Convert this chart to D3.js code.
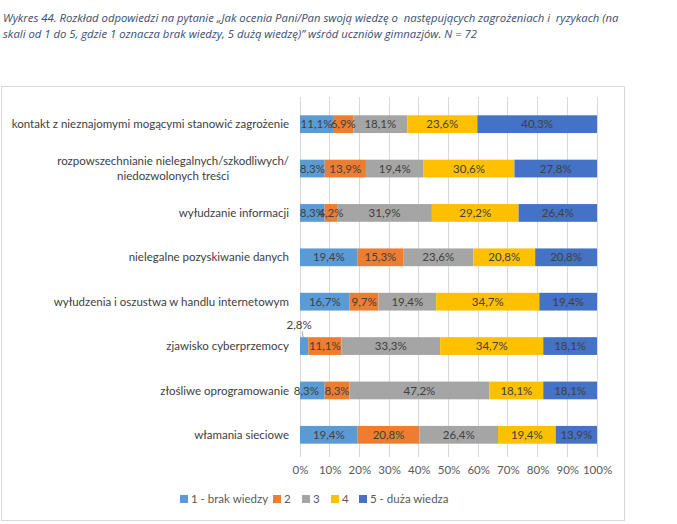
<!DOCTYPE html>
<html><head><meta charset="utf-8">
<script src="https://cdn.jsdelivr.net/npm/d3@7"></script>
<style>
body{margin:0;background:#fff;}
svg{display:block;}
text{font-family:Lato,"Noto Sans",sans-serif;}
</style></head>
<body><svg id="c" width="677" height="524"></svg>
<script>
const categories = [
  ["kontakt z nieznajomymi mogącymi stanowić zagrożenie"],
  ["rozpowszechnianie nielegalnych/szkodliwych/","niedozwolonych treści"],
  ["wyłudzanie informacji"],
  ["nielegalne pozyskiwanie danych"],
  ["wyłudzenia i oszustwa w handlu internetowym"],
  ["zjawisko cyberprzemocy"],
  ["złośliwe oprogramowanie"],
  ["włamania sieciowe"]
];
const seriesNames = ["1 - brak wiedzy","2","3","4","5 - duża wiedza"];
const s1 = [11.1, 8.3, 8.3, 19.4, 16.7, 2.8, 8.3, 19.4];
const s2 = [6.9, 13.9, 4.2, 15.3, 9.7, 11.1, 8.3, 20.8];
const s3 = [18.1, 19.4, 31.9, 23.6, 19.4, 33.3, 47.2, 26.4];
const s4 = [23.6, 30.6, 29.2, 20.8, 34.7, 34.7, 18.1, 19.4];
const s5 = [40.3, 27.8, 26.4, 20.8, 19.4, 18.1, 18.1, 13.9];
const tickValues = [0,10,20,30,40,50,60,70,80,90,100];
const colors = ["#5B9BD5","#ED7D31","#A5A5A5","#FFC000","#4472C4"];
const titleLines = ["Wykres 44. Rozkład odpowiedzi na pytanie „Jak ocenia Pani/Pan swoją wiedzę o  następujących zagrożeniach i  ryzykach (na",
  "skali od 1 do 5, gdzie 1 oznacza brak wiedzy, 5 dużą wiedzę)” wśród uczniów gimnazjów. N = 72"];

const series = [s1,s2,s3,s4,s5];
const svg = d3.select("#c");

// title
svg.append("g").selectAll("text").data(titleLines).join("text")
  .attr("x",3).attr("y",(d,i)=>22+i*16)
  .attr("font-size",11.3).attr("font-style","italic").attr("fill","#3B4E6E")
  .style("font-family","'Open Sans',sans-serif").style("white-space","pre")
  .attr("xml:space","preserve")
  .text(d=>d);

// frame
svg.append("rect").attr("x",1.5).attr("y",86.5).attr("width",623).attr("height",434)
  .attr("fill","none").attr("stroke","#D9D9D9");

const x = d3.scaleLinear().domain([0,100]).range([300,597]);
const y = d3.scaleBand().domain(d3.range(categories.length)).range([102,457]).paddingInner(0.6).paddingOuter(0.3);

// gridlines
svg.append("g").selectAll("line").data(tickValues).join("line")
  .attr("x1",d=>x(d)).attr("x2",d=>x(d)).attr("y1",97).attr("y2",457)
  .attr("stroke","#D9D9D9").attr("stroke-width",1).attr("shape-rendering","crispEdges");

// axis
const ax = svg.append("g").attr("transform","translate(0,457)")
  .call(d3.axisBottom(x).tickValues(tickValues).tickSize(0).tickPadding(9).tickFormat(d=>d+"%"));
ax.select(".domain").remove();
ax.selectAll("text").attr("font-size",11.5).attr("fill","#595959").style("font-family","Lato,sans-serif");

// stack
const rows = categories.map((c,i)=>{
  const vals = series.map(s=>s[i]);
  const tot = d3.sum(vals);
  const o = {i}; vals.forEach((v,k)=>o["k"+k]=v/tot*100); o.raw = vals; return o;
});
const stack = d3.stack().keys(seriesNames.map((d,k)=>"k"+k))(rows);

const g = svg.append("g");
stack.forEach((layer,k)=>{
  g.selectAll(null).data(layer).join("rect")
    .attr("x",d=>x(d[0])).attr("width",d=>x(d[1])-x(d[0]))
    .attr("y",d=>y(d.data.i)).attr("height",y.bandwidth())
    .attr("fill",colors[k]);
});
const fmt = v=>v.toFixed(1).replace(".",",")+"%";
stack.forEach((layer,k)=>{
  layer.forEach(d=>{
    const v = d.data.raw[k];
    let cx = (x(d[0])+x(d[1]))/2;
    const cy = y(d.data.i)+y.bandwidth()/2;
    if (x(d[1])-x(d[0]) < 10) {
      // outside label with leader
      g.append("line").attr("x1",cx-1).attr("x2",cx-2).attr("y1",y(d.data.i)).attr("y2",y(d.data.i)-6)
        .attr("stroke","#A6A6A6");
      g.append("text").attr("x",cx-5).attr("y",y(d.data.i)-8).attr("text-anchor","middle")
        .attr("font-size",11.5).attr("fill","#404040").text(fmt(v));
    } else {
      // Excel nudged the first label of "złośliwe oprogramowanie" left
      if (d.data.i===6 && k===0) cx -= 6;
      g.append("text").attr("x",cx).attr("y",cy).attr("dy","0.36em").attr("text-anchor","middle")
        .attr("font-size",11.5).attr("fill","#404040").text(fmt(v));
    }
  });
});

// category labels
categories.forEach((lines,i)=>{
  const cy = y(i)+y.bandwidth()/2;
  const t = svg.append("text").attr("font-size",11.5).attr("fill","#404040");
  if (lines.length===1){
    t.attr("x",289).attr("y",cy).attr("dy","0.36em").attr("text-anchor","end").text(lines[0]);
  } else {
    const tmp = svg.append("text").attr("font-size",11.5).text(lines[0]);
    const w = tmp.node().getComputedTextLength(); tmp.remove();
    const c = 289 - w/2;
    lines.forEach((l,j)=>{
      t.append("tspan").attr("x",c).attr("y",cy+(j-(lines.length-1)/2)*15).attr("dy","0.36em")
        .attr("text-anchor","middle").text(l);
    });
  }
});

// legend
const lg = svg.append("g").attr("transform","translate(0,499)");
const lx = [180,273,302,331,359];
seriesNames.forEach((n,k)=>{
  lg.append("rect").attr("x",lx[k]).attr("y",-4).attr("width",8).attr("height",8).attr("fill",colors[k]);
  lg.append("text").attr("x",lx[k]+11).attr("y",0).attr("dy","0.36em").attr("font-size",11.5)
    .attr("fill","#595959").text(n);
});
</script></body></html>
